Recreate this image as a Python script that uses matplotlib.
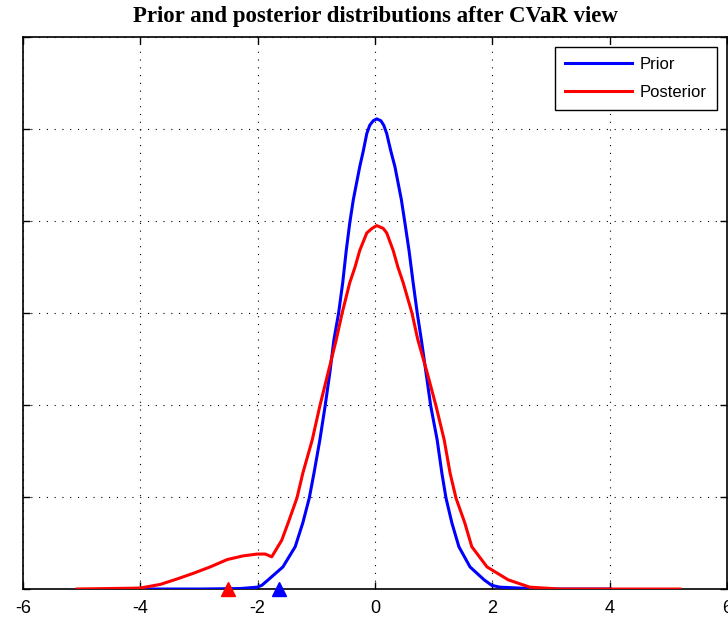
import matplotlib.pyplot as plt

# prior density (blue)
prior_x = [-3.94, -2.98, -2.30, -2.01, -1.93, -1.82, -1.57, -1.36, -1.23, -1.12,
           -1.04, -0.94, -0.85, -0.77, -0.70, -0.62, -0.55, -0.49, -0.43, -0.37,
           -0.26, -0.20, -0.14, -0.09, -0.03, 0.03, 0.10, 0.15, 0.20, 0.27,
           0.34, 0.45, 0.51, 0.58, 0.65, 0.72, 0.79, 0.87, 0.95, 1.06,
           1.14, 1.21, 1.31, 1.43, 1.62, 1.86, 1.99, 2.13, 2.81, 4.01]
prior_y = [0.0, 0.0, 0.0005, 0.002, 0.004, 0.010, 0.024, 0.046, 0.072, 0.099,
           0.126, 0.162, 0.199, 0.235, 0.271, 0.300, 0.333, 0.368, 0.398, 0.423,
           0.459, 0.476, 0.495, 0.504, 0.509, 0.511, 0.509, 0.504, 0.495, 0.476,
           0.459, 0.423, 0.398, 0.368, 0.333, 0.300, 0.271, 0.235, 0.199, 0.162,
           0.126, 0.099, 0.072, 0.046, 0.024, 0.010, 0.004, 0.002, 0.0, 0.0]

# posterior density (red)
post_x = [-5.08, -4.01, -3.66, -3.37, -3.10, -2.81, -2.52, -2.25, -2.01, -1.87,
          -1.76, -1.59, -1.48, -1.33, -1.23, -1.07, -0.94, -0.80, -0.66, -0.56,
          -0.43, -0.34, -0.26, -0.14, -0.05, 0.03, 0.14, 0.20, 0.31, 0.39,
          0.48, 0.63, 0.73, 0.89, 1.04, 1.18, 1.28, 1.38, 1.53, 1.65,
          1.91, 2.27, 2.64, 3.15, 5.20]
post_y = [0.0, 0.001, 0.005, 0.011, 0.017, 0.024, 0.032, 0.036, 0.038, 0.038,
          0.035, 0.053, 0.072, 0.099, 0.126, 0.162, 0.199, 0.235, 0.271, 0.300,
          0.333, 0.350, 0.368, 0.387, 0.392, 0.395, 0.392, 0.387, 0.368, 0.350,
          0.333, 0.300, 0.271, 0.235, 0.199, 0.162, 0.126, 0.099, 0.072, 0.046,
          0.024, 0.010, 0.002, 0.0, 0.0]

# VaR markers on the x axis
prior_var = -1.64
post_var = -2.51

xticks = [-6, -4, -2, 0, 2, 4, 6]
yticks = [0, 0.1, 0.2, 0.3, 0.4, 0.5, 0.6]

fig = plt.figure(figsize=(7.28, 6.21), dpi=100)
ax = fig.add_axes([0.0316, 0.0515, 0.967, 0.8889])

ax.plot(prior_x, prior_y, color=(0, 0, 1), lw=2.2, label="Prior", zorder=3)
ax.plot(post_x, post_y, color=(1, 0, 0), lw=2.2, label="Posterior", zorder=4)
ax.plot([post_var], [0], marker="^", color=(1, 0, 0), ms=10, clip_on=False, zorder=5)
ax.plot([prior_var], [0], marker="^", color=(0, 0, 1), ms=10, clip_on=False, zorder=5)

ax.set_xlim(-6, 6)
ax.set_ylim(0, 0.6)
ax.set_xticks(xticks)
ax.set_xticklabels([str(t) for t in xticks], family="Liberation Sans", fontsize=13)
ax.set_yticks(yticks)
ax.set_yticklabels([])
ax.tick_params(direction="in", length=5, width=1, top=True, right=True, pad=8)
for s in ax.spines.values():
    s.set_linewidth(1.2)

ax.grid(True, color="black", lw=0.8, linestyle=(0, (1, 6)))
ax.set_axisbelow(True)

ax.set_title("Prior and posterior distributions after CVaR view",
             family="Liberation Serif", fontweight="bold", fontsize=16.5, pad=11)

leg = ax.legend(loc="upper right", fancybox=False, framealpha=1, edgecolor="black",
                prop={"family": "Liberation Sans", "size": 12},
                handlelength=4.0, labelspacing=0.75, borderaxespad=0.6,
                borderpad=0.6, handletextpad=0.5)
leg.get_frame().set_linewidth(1.0)

fig.savefig("out.png", dpi=100)
